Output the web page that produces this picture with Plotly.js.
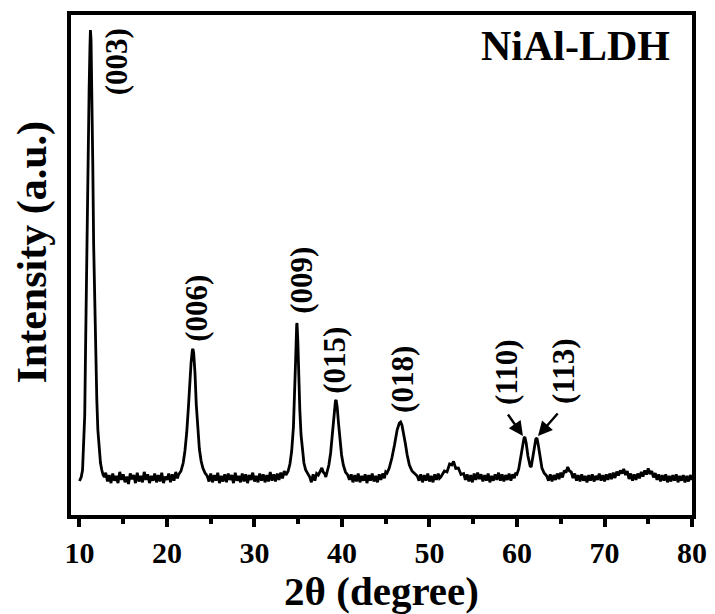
<!DOCTYPE html>
<html>
<head>
<meta charset="utf-8">
<script src="https://cdn.plot.ly/plotly-3.0.1.min.js"></script>
<style>
  html, body { margin: 0; padding: 0; background: #fff; }
  #chart { width: 715px; height: 614px; }
</style>
</head>
<body>
<div id="chart"></div>
<script>
// XRD pattern of NiAl layered double hydroxide (2θ in degrees, intensity in counts)
const twoTheta = [
  // (003)
  10.0, 10.2, 10.35, 10.5, 10.6, 10.7, 10.8, 10.9, 11.0, 11.1, 11.2, 11.25, 11.32, 11.42, 11.52, 11.62, 11.72, 11.85, 11.98, 12.1, 12.25, 12.4, 12.55, 12.7, 12.85,
  13.0, 13.2, 13.4, 13.6, 13.8, 14.0, 14.2, 14.4, 14.6, 14.8, 15.0, 15.2, 15.4, 15.6, 15.8, 16.0, 16.2, 16.4, 16.6, 16.8,
  17.0, 17.2, 17.4, 17.6, 17.8, 18.0, 18.2, 18.4, 18.6, 18.8, 19.0, 19.2, 19.4, 19.6, 19.8, 20.0, 20.2, 20.4, 20.6, 20.8, 21.0, 21.2,
  // (006)
  21.3, 21.6, 21.85, 22.05, 22.25, 22.45, 22.6, 22.75, 22.9, 22.97, 23.05, 23.2, 23.35, 23.5, 23.7, 23.9, 24.1, 24.35, 24.6,
  24.8, 25.0, 25.2, 25.4, 25.6, 25.8, 26.0, 26.2, 26.4, 26.6, 26.8, 27.0, 27.2, 27.4, 27.6, 27.8, 28.0, 28.2, 28.4, 28.6, 28.8,
  29.0, 29.2, 29.4, 29.6, 29.8, 30.0, 30.2, 30.4, 30.6, 30.8, 31.0, 31.2, 31.4, 31.6, 31.8, 32.0, 32.2, 32.4, 32.6, 32.8, 33.0, 33.2, 33.4,
  // (009)
  33.6, 33.85, 34.05, 34.25, 34.45, 34.6, 34.72, 34.82, 34.86, 34.95, 35.05, 35.18, 35.32, 35.48, 35.65, 35.85, 36.1,
  36.3, 36.5, 36.7, 36.9, 37.1, 37.3, 37.5, 37.7, 37.85, 38.05, 38.15,
  // (015)
  38.3, 38.5, 38.7, 38.9, 39.1, 39.25, 39.33, 39.45, 39.6, 39.75, 39.95, 40.15, 40.4, 40.65,
  40.85, 41.05, 41.25, 41.45, 41.65, 41.85, 42.05, 42.25, 42.45, 42.65, 42.85, 43.05, 43.25, 43.45, 43.65, 43.85, 44.05, 44.25, 44.45, 44.65, 44.85, 45.0,
  // (018)
  45.15, 45.4, 45.7, 46.0, 46.3, 46.55, 46.7, 46.85, 47.05, 47.25, 47.45, 47.7, 48.0, 48.3, 48.6,
  48.8, 49.0, 49.2, 49.4, 49.6, 49.8, 50.0, 50.2, 50.4, 50.6, 50.8, 51.0, 51.15,
  51.3, 51.7, 52.0, 52.3, 52.55, 52.75, 53.0, 53.3, 53.6, 53.9,
  54.1, 54.3, 54.5, 54.7, 54.9, 55.1, 55.3, 55.5, 55.7, 55.9, 56.1, 56.3, 56.5, 56.7, 56.9, 57.1, 57.3, 57.5, 57.7, 57.9,
  58.1, 58.3, 58.5, 58.7, 58.9, 59.1, 59.3, 59.5, 59.7, 59.85,
  // (110) and (113)
  60.0, 60.2, 60.4, 60.6, 60.8, 60.9, 61.05, 61.25, 61.5, 61.62, 61.8, 62.0, 62.15, 62.28, 62.45, 62.65, 62.85, 63.1, 63.4,
  63.6, 63.8, 64.0, 64.2, 64.4, 64.6, 64.8, 65.0, 65.2, 65.4, 65.6, 65.8, 66.0, 66.2, 66.4, 66.6, 66.8, 67.0, 67.2, 67.4, 67.6, 67.8,
  68.0, 68.2, 68.4, 68.6, 68.8, 69.0, 69.2, 69.4, 69.6, 69.8, 70.0, 70.2, 70.4, 70.6, 70.8, 71.0, 71.2, 71.4, 71.6, 71.8,
  72.0, 72.2, 72.4, 72.6, 72.8, 73.0, 73.2, 73.4, 73.6, 73.8, 74.0, 74.2, 74.4, 74.6, 74.8, 75.0, 75.2, 75.4, 75.6, 75.8,
  76.0, 76.2, 76.4, 76.6, 76.8, 77.0, 77.2, 77.4, 77.6, 77.8, 78.0, 78.2, 78.4, 78.6, 78.8, 79.0, 79.2, 79.4, 79.6, 79.8, 80.0
];

const intensity = [
  // (003)
  340, 380, 450, 700, 1000, 1700, 2500, 3100, 3700, 4250, 4700, 4850, 4750, 4250, 3500, 2700, 2150, 1600, 1150, 850, 650, 520, 450, 400, 380,
  423, 335, 399, 319, 415, 343, 391, 319, 431, 351, 407, 327, 383, 311, 415, 359, 399, 319, 423, 335,
  391, 327, 431, 351, 407, 319, 391, 343, 415, 327, 399, 335, 423, 319, 383, 351, 415, 327, 407, 343, 431, 367,
  // (006)
  400, 440, 520, 640, 820, 1080, 1320, 1520, 1650, 1660, 1620, 1420, 1100, 850, 660, 540, 470, 420, 390,
  335, 415, 327, 399, 343, 423, 319, 391, 335, 407, 327, 415, 351, 399, 319, 423, 343, 391, 327, 415, 335,
  407, 319, 399, 351, 423, 335, 391, 327, 415, 343, 407, 327, 399, 335, 431, 343, 407, 335, 415, 351, 423, 367, 439,
  // (009)
  400, 440, 510, 640, 880, 1200, 1600, 1900, 1920, 1750, 1400, 1050, 800, 630, 520, 450, 410,
  383, 327, 407, 343, 415, 400, 440, 470, 430, 410, 380,
  // (015)
  440, 500, 620, 820, 1030, 1140, 1150, 1080, 920, 750, 600, 500, 430, 400,
  351, 407, 327, 399, 335, 415, 327, 391, 343, 407, 319, 399, 343, 415, 335, 391, 327, 407, 351, 415, 367, 431,
  // (018)
  420, 470, 570, 700, 850, 920, 930, 900, 820, 710, 600, 500, 440, 410, 390,
  343, 407, 327, 399, 343, 415, 335, 391, 327, 407, 351, 415, 367,
  380, 440, 430, 510, 500, 535, 465, 470, 405, 415,
  351, 407, 335, 399, 327, 415, 351, 423, 359, 407, 335, 399, 343, 415, 327, 391, 343, 407, 351, 423,
  343, 407, 335, 399, 351, 415, 343, 407, 367, 423,
  // (110) and (113)
  410, 460, 560, 680, 770, 780, 720, 590, 490, 480, 560, 680, 760, 770, 690, 570, 470, 420, 390,
  343, 407, 335, 399, 351, 415, 359, 423, 375, 445, 425, 480, 440, 430, 370, 415, 343, 399, 335, 407, 343, 391,
  327, 399, 343, 407, 335, 391, 351, 415, 343, 399, 335, 407, 351, 415, 359, 423, 370, 435, 395, 445,
  415, 460, 400, 440, 360, 415, 343, 407, 351, 415, 367, 431, 385, 445, 405, 465, 410, 440, 375, 420,
  351, 407, 335, 399, 343, 407, 327, 391, 335, 399, 343, 407, 327, 391, 343, 399, 327, 391, 335, 399, 351
];

// Miller indices and where their labels sit (2θ, intensity of the label centre)
const hkl = ['(003)', '(006)', '(009)', '(015)', '(018)', '(110)', '(113)'];
const labelTheta = [14.2, 23.29, 35.3, 39.07, 46.85, 58.74, 65.25];
const labelIntensity = [4530, 2070, 2350, 1550, 1360, 1430, 1440];

// Arrows pointing from the (110)/(113) labels to their peaks
const arrowTail = [[58.85, 1020], [64.8, 1030]];
const arrowHead = [[60.68, 790], [62.4, 790]];

const serif = 'Liberation Serif, Times New Roman, serif';

const trace = {
  x: twoTheta,
  y: intensity,
  type: 'scatter',
  mode: 'lines',
  line: { color: '#000', width: 2.8 },
  hoverinfo: 'skip'
};

const annotations = hkl.map((t, i) => ({
  x: labelTheta[i], y: labelIntensity[i], xref: 'x', yref: 'y',
  text: t, textangle: -90, showarrow: false,
  xanchor: 'center', yanchor: 'middle',
  font: { family: serif, size: 31, weight: 'bold', color: '#000' }
}));

arrowTail.forEach((tail, i) => {
  annotations.push({
    x: arrowHead[i][0], y: arrowHead[i][1], xref: 'x', yref: 'y',
    ax: tail[0], ay: tail[1], axref: 'x', ayref: 'y',
    text: '', showarrow: true, arrowhead: 2, arrowsize: 1.2, arrowwidth: 2.4, arrowcolor: '#000'
  });
});

annotations.push({
  x: 0.813, y: 0.938, xref: 'paper', yref: 'paper',
  text: 'NiAl-LDH', showarrow: false, xanchor: 'center', yanchor: 'middle',
  font: { family: serif, size: 42, weight: 'bold', color: '#000' }
});

// y-axis title, placed a little above the axis centre
annotations.push({
  x: -0.062, y: 0.526, xref: 'paper', yref: 'paper',
  text: 'Intensity (a.u.)', textangle: -90, showarrow: false,
  xanchor: 'center', yanchor: 'middle',
  font: { family: serif, size: 42, weight: 'bold', color: '#000' }
});

const layout = {
  width: 715,
  height: 614,
  margin: { l: 71, r: 23, t: 15, b: 99 },
  paper_bgcolor: '#fff',
  plot_bgcolor: '#fff',
  showlegend: false,
  xaxis: {
    range: [9.03, 80],
    tickvals: [10, 20, 30, 40, 50, 60, 70, 80],
    ticks: 'outside', ticklen: 8, tickwidth: 4, tickcolor: '#000',
    minor: { tickvals: [15, 25, 35, 45, 55, 65, 75], ticks: 'outside', ticklen: 5, tickwidth: 4, tickcolor: '#000' },
    showline: true, mirror: true, linewidth: 4, linecolor: '#000',
    showgrid: false, zeroline: false,
    tickfont: { family: serif, size: 30, weight: 'bold', color: '#000' },
    title: { text: '2θ (degree)', standoff: 10, font: { family: serif, size: 41, weight: 'bold', color: '#000' } }
  },
  yaxis: {
    range: [0, 5000],
    showticklabels: false, ticks: '',
    showline: true, mirror: true, linewidth: 4, linecolor: '#000',
    showgrid: false, zeroline: false
  },
  annotations: annotations
};

Plotly.newPlot('chart', [trace], layout, { staticPlot: true, displayModeBar: false });
</script>
</body>
</html>
